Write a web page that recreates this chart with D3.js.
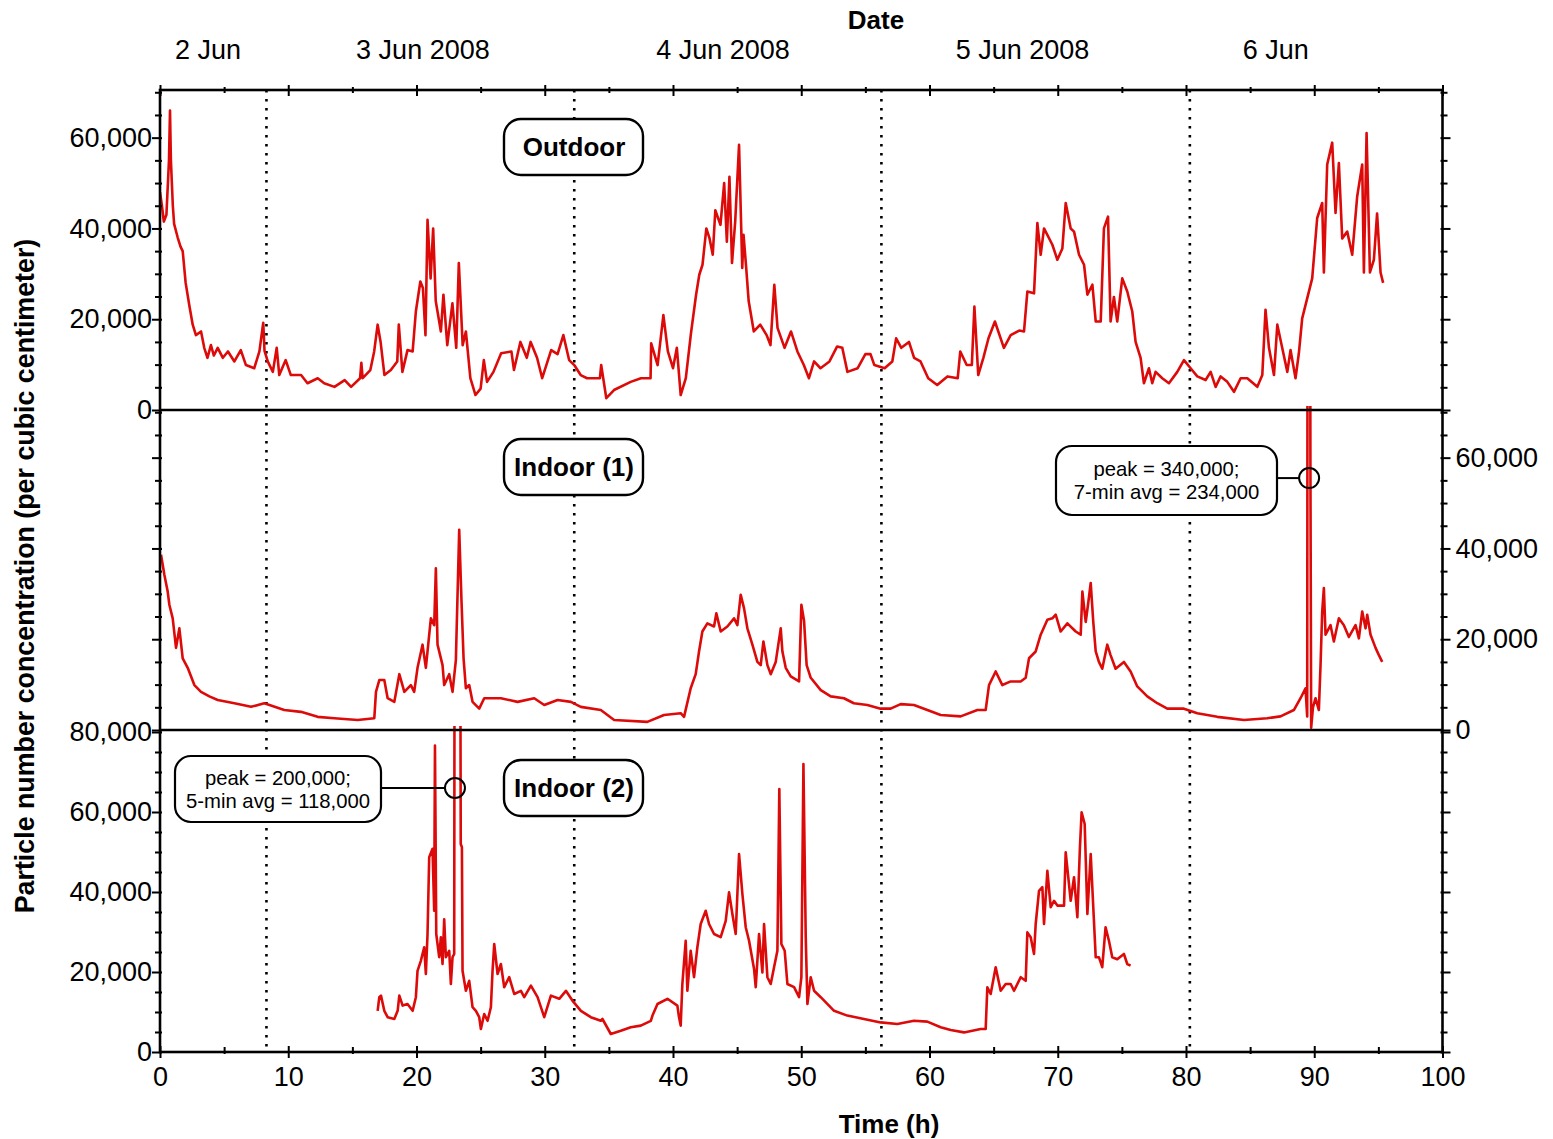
<!DOCTYPE html>
<html><head><meta charset="utf-8">
<script src="https://cdn.jsdelivr.net/npm/d3@7"></script>
<style>
body{margin:0;background:#fff}
text{font-family:"Liberation Sans",Arial,Helvetica,sans-serif;fill:#000}
</style>
</head><body>
<svg id="chart" width="1553" height="1139"></svg>
<script>
// ---------- DATA (time in hours, concentration in thousand particles per cm³) ----------
const outdoorHours = [0.0,0.15,0.3,0.5,0.7,0.78,0.85,1.0,1.1,1.38,1.6,1.77,2.0,2.3,2.55,2.8,3.2,3.45,3.7,3.97,4.2,4.5,4.9,5.3,5.8,6.3,6.7,7.35,7.75,8.05,8.15,8.4,8.8,9.1,9.3,9.8,10.2,11.0,11.5,12.3,12.8,13.6,14.4,14.9,15.6,15.7,15.8,16.4,16.7,16.97,17.2,17.5,18.0,18.5,18.62,18.9,19.3,19.7,19.95,20.3,20.5,20.7,20.86,21.1,21.3,21.5,21.9,22.1,22.4,22.8,23.1,23.3,23.6,23.85,24.2,24.6,25.0,25.25,25.5,26.0,26.6,27.4,27.6,28.1,28.6,28.9,29.4,29.8,30.5,31.0,31.45,31.9,32.3,32.8,33.3,34.3,34.4,34.8,35.4,36.7,37.5,38.25,38.3,38.8,39.25,39.6,40.0,40.3,40.6,41.0,41.4,41.8,42.05,42.3,42.6,42.85,43.1,43.3,43.7,43.99,44.2,44.4,44.6,44.85,45.15,45.4,45.5,45.7,45.9,46.3,46.8,47.3,47.6,47.9,48.15,48.7,49.2,49.7,50.2,50.6,51.0,51.5,52.2,52.8,53.2,53.6,54.4,55.0,55.4,55.7,56.5,57.1,57.4,57.8,58.4,58.8,59.3,59.9,60.6,61.4,62.2,62.4,62.9,63.3,63.5,63.8,64.2,64.6,65.1,65.8,66.33,67.0,67.37,67.63,68.15,68.41,68.67,68.93,69.58,69.97,70.36,70.62,71.01,71.27,71.66,72.05,72.31,72.7,72.96,73.35,73.6,73.92,74.12,74.38,74.64,75.03,75.42,75.81,76.07,76.46,76.72,77.11,77.37,77.63,78.15,78.67,79.32,79.84,80.36,80.88,81.53,81.92,82.31,82.7,83.22,83.74,84.26,84.78,85.56,85.95,86.2,86.47,86.86,87.12,87.5,87.9,88.15,88.54,88.8,89.06,89.45,89.84,90.23,90.62,90.75,91.01,91.4,91.66,91.92,92.18,92.57,92.96,93.35,93.74,93.87,94.08,94.34,94.65,94.9,95.17,95.37];
const outdoorValues = [48,45,41.5,43,55,66,55,45,41,38,36,35,28,22.8,18.8,16.5,17.3,13.7,11.5,14.3,12,13.7,11.5,12.9,10.7,13.2,9.9,9.2,12.9,19.2,13,10.7,8.4,13.7,7.7,11,7.7,7.7,5.9,7,5.9,5.1,6.6,5.1,7,10.4,7,8.8,12.9,18.8,15,7.7,8.8,10.7,18.8,8.4,13.2,12.9,21.7,28.3,26.9,16.5,41.9,29,40,24,17.3,25.4,14.3,23.5,13.7,32.4,14.3,17.3,7,3.3,4.7,11,6.2,8.4,12.5,12.9,8.8,15,11.5,15,11.5,7,13.2,12.3,16.5,11,9.9,7.7,7,7,9.9,2.6,4.4,6.2,7,7,14.7,9.9,20.9,12.9,9.2,13.7,3.3,7,16.9,25.4,29.8,32,40,37.8,34.2,44,40.8,50,37.1,51.4,32.4,41.5,58.4,31.3,38.6,31.6,24,17.3,18.8,16.5,14.3,27.6,18.1,13.7,17.3,12.9,9.9,7,10.7,9.2,10.7,14,13.7,8.4,9.2,12.3,12.3,9.9,9.2,10.7,15.8,13.7,15,11.5,10.7,7,5.5,7.4,7,12.9,9.9,9.9,22.8,7.7,11.5,15.8,19.5,13.7,16.5,17.5,17.3,26.1,25.7,41.2,34.2,40,36.4,33.1,35.6,45.6,40,39.3,34.2,32,25.4,27.6,19.5,19.5,40,42.6,19.5,24.9,19.5,29,26.1,21.7,15,11.5,5.9,9.2,5.9,8.4,7,5.9,8.4,11,9.2,7.4,6.6,8.4,5.1,7.4,6.2,4.0,7.0,7.0,5.1,7.7,22.1,13.7,7.7,18.8,13.7,8.4,13.2,7.0,12.5,20.2,24.6,29,42.3,45.6,30.3,54.1,58.9,43.4,54.4,37.8,39.3,34.2,47.1,54.1,30.3,61,30.3,33.1,43.3,30.3,28];

const indoor1Hours = [0.08,0.34,0.6,0.73,0.99,1.25,1.51,1.77,2.16,2.68,3.2,3.85,4.5,5.8,7.1,8.13,9.69,10.99,12.29,13.59,15.41,16.71,16.84,17.1,17.49,17.75,18.27,18.66,19.05,19.56,19.82,20.08,20.47,20.73,21.12,21.38,21.51,21.64,22.03,22.16,22.55,22.81,23.07,23.33,23.51,23.67,23.85,24.11,24.37,24.89,25.28,26.58,27.88,29.18,29.96,31.0,32.04,32.81,34.37,35.41,38.0,39.3,40.6,40.86,41.38,41.77,42.03,42.29,42.68,43.2,43.38,43.72,44.24,44.76,45.02,45.28,45.54,45.8,46.19,46.58,46.84,47.05,47.36,47.62,48.01,48.4,48.53,48.79,49.18,49.83,50.01,50.22,50.42,50.74,51.52,52.3,53.33,54.1,55.15,56.19,56.97,57.75,58.79,59.83,60.87,62.43,63.73,64.38,64.64,65.16,65.68,66.33,67.11,67.5,67.76,68.28,68.67,69.19,69.58,69.84,70.23,70.75,71.4,71.79,71.92,72.18,72.36,72.57,72.77,72.96,73.21,73.47,73.86,74.12,74.51,75.16,75.68,76.2,76.98,77.76,78.54,79.84,80.88,82.44,84.52,86.33,87.37,88.41,88.93,89.32,89.45,89.55,89.62,89.7,89.76,89.9,90.1,90.36,90.49,90.62,90.75,90.88,91.27,91.53,91.92,92.31,92.7,93.22,93.48,93.74,94.0,94.13,94.39,94.78,95.04,95.3];
const indoor1Values = [38.6,34.2,30.5,27.6,24.6,18.1,22.4,15.8,13.7,9.9,8.4,7.4,6.6,5.9,5.1,5.9,4.4,4.0,2.9,2.6,2.2,2.6,8.4,11,11,7,6.2,12.3,8.4,9.9,8.4,13.7,18.8,13.7,24.6,23.1,35.6,18.8,14.3,9.9,12.3,8.4,15.4,44.1,28.3,15.8,9.2,9.9,6.2,4.7,7,7,6.2,7,5.5,6.6,6.2,5.1,4.4,2.2,1.8,3.3,3.7,2.9,9.2,12.3,17.3,21.7,23.5,22.8,25.7,21.7,22.8,24.6,23.1,29.8,26.8,22.4,18.8,15,14.3,19.5,14.3,12.3,15,22.4,17.3,13.7,11.8,10.7,27.6,24,14.3,11.5,8.8,7.4,7,5.9,5.5,4.7,4.7,5.7,5.5,4.4,3.3,3.0,4.4,4.4,9.9,12.9,9.9,10.7,10.7,11.5,15.8,17.3,21,24.3,24.6,25.4,21.7,23.5,21.7,21,30.5,23.8,27.6,32.4,23.8,17.3,15,13.5,18.8,16.5,13.5,15,12.9,9.6,7.4,5.9,4.7,4.7,3.7,2.9,2.2,2.6,3.0,4.4,7,9.2,3,340,234,60,0.5,5,7,4.4,14.3,26.1,31.3,21,23.1,19.5,24.6,23.1,20.5,23.1,20.2,26.1,22.4,25.4,21,18.1,16.5,15];

const indoor2Hours = [16.97,17.1,17.23,17.49,17.75,18.27,18.53,18.66,18.92,19.3,19.7,19.95,20.08,20.34,20.6,20.73,20.86,20.99,21.25,21.38,21.44,21.54,21.77,21.9,22.03,22.16,22.29,22.55,22.68,22.81,22.94,23.0,23.12,23.25,23.35,23.45,23.54,23.59,23.85,24.11,24.37,24.63,24.89,25.02,25.28,25.54,25.8,25.93,26.06,26.32,26.58,26.84,27.23,27.62,28.14,28.4,28.92,29.44,29.96,30.48,31.13,31.65,32.17,32.82,33.59,34.37,34.5,35.15,35.93,36.71,37.49,38.27,38.4,38.79,39.57,40.34,40.47,40.6,40.73,40.99,41.12,41.38,41.64,41.9,42.16,42.55,42.81,43.2,43.72,44.11,44.37,44.63,44.89,45.15,45.41,45.67,45.93,46.32,46.45,46.71,46.97,47.1,47.36,47.62,47.88,48.14,48.29,48.45,48.71,48.92,49.44,49.83,50.01,50.17,50.35,50.48,50.74,51.0,51.52,52.56,53.59,54.89,56.19,57.49,58.79,59.83,60.87,61.65,62.69,63.99,64.38,64.51,64.77,65.16,65.55,65.94,66.33,66.59,67.11,67.5,67.63,67.89,68.15,68.28,68.54,68.8,68.93,69.19,69.45,69.71,69.97,70.49,70.62,71.01,71.27,71.53,71.73,71.86,72.1,72.31,72.57,72.77,72.96,73.21,73.47,73.73,73.99,74.25,74.64,75.16,75.42,75.68];
const indoor2Values = [10.3,13.7,14.1,10.3,8.7,8.25,10.3,14.1,11.6,12,10.3,13.7,20.3,22.8,26.2,19.5,29.5,48.7,50.8,35.3,76.6,29.5,23.7,28.7,22,33.2,23.7,25.3,17,23.7,24.5,200,118,130,200,52,51.2,20.3,15.3,17.8,11.2,10.3,8.7,5.75,9.5,7.8,11.2,20.3,27,19.5,22,16.2,18.7,14.5,15.3,13.7,16.6,13.7,8.7,14.1,13.3,15.3,12.8,10.3,8.7,7.8,8.25,4.5,5.3,6.2,6.6,7.8,9.1,12,13.3,11.6,8.7,6.6,17,27.8,15.3,25.3,18.7,26.2,32,35.3,32,29.5,28.7,32.8,39.9,34.5,29.5,49.5,39.5,31.2,27.8,20.75,16.2,29.5,19.9,32,18.7,17,21.2,25.3,65.75,27,25.3,17,16.2,13.7,18.7,72,28.7,12,18.7,15.3,13.7,10.3,9.1,8.25,7.4,7.0,7.8,7.6,6.2,5.5,4.9,5.75,5.75,16.2,14.5,21.2,15.3,17,17,15.3,18.7,17.8,29.9,28.7,24.5,32,40.3,41.2,32,45.3,36.2,37.8,36.6,36.6,49.9,37.8,43.7,33.7,51.2,59.9,57,34.5,49.5,36.2,23.7,23.7,21.2,31.2,27.8,23.7,23.2,24.5,22,21.6];

const panelNames = ["Outdoor","Indoor (1)","Indoor (2)"];
const panelMax = [70500, 70500, 80500];
const leftTickLabels = [[0,20000,40000,60000],[],[0,20000,40000,60000,80000]];
const rightTickLabels = [[],[0,20000,40000,60000],[]];
const xTickLabels = [0,10,20,30,40,50,60,70,80,90,100];
const dateLabels = ["2 Jun","3 Jun 2008","4 Jun 2008","5 Jun 2008","6 Jun"];
const dateLabelHours = [3.75,20.5,43.9,67.25,87.0];
const midnightHours = [8.3,32.3,56.25,80.3];
const annotations = [
  {panel:1, lines:["peak = 340,000;","7-min avg = 234,000"], hour:89.6, value:55500},
  {panel:2, lines:["peak = 200,000;","5-min avg = 118,000"], hour:23.0, value:66000}
];

// ---------- LAYOUT ----------
const svg = d3.select("#chart");
const X0 = 160, X1 = 1442.5;
const bands = [[90,410],[410,730],[730,1052]];
const x = d3.scaleLinear().domain([0,100]).range([X0,X1]);
const ys = bands.map((b,i)=>d3.scaleLinear().domain([0,panelMax[i]]).range([b[1],b[0]]));
const RED = "#dd0a0a";
const TICKFONT = 27;
const TITLEFONT = 26;

svg.append("rect").attr("width",1553).attr("height",1139).attr("fill","#fff");

// clip paths
const defs = svg.append("defs");
bands.forEach((b,i)=>{
  defs.append("clipPath").attr("id","clip"+i).append("rect")
    .attr("x",X0).attr("y",b[0]-4).attr("width",X1-X0).attr("height",b[1]-b[0]+4);
});

// midnight dotted lines
svg.append("g").selectAll("line").data(midnightHours).join("line")
  .attr("x1",d=>x(d)).attr("x2",d=>x(d)).attr("y1",bands[0][0]).attr("y2",bands[2][1])
  .attr("stroke","#000").attr("stroke-width",2.6).attr("stroke-dasharray","2.6,6.4");

// series
const series = [
  [outdoorHours,outdoorValues],
  [indoor1Hours,indoor1Values],
  [indoor2Hours,indoor2Values]
];
series.forEach(([hs,vs],i)=>{
  const pts = hs.map((h,j)=>[h, vs[j]*1000]);
  const line = d3.line().x(d=>x(d[0])).y(d=>ys[i](d[1]));
  svg.append("path").datum(pts).attr("d",line)
    .attr("clip-path",`url(#clip${i})`)
    .attr("fill","none").attr("stroke",RED).attr("stroke-width",2.6)
    .attr("stroke-linejoin","round");
});

// y ticks (minor every 5000, major every 20000) both sides
bands.forEach((b,i)=>{
  const y = ys[i];
  const vals = d3.range(0, panelMax[i], 5000);
  const gl = svg.append("g").attr("transform",`translate(${X0},0)`)
    .call(d3.axisLeft(y).tickValues(vals).tickSize(5).tickFormat(""));
  gl.select(".domain").remove();
  gl.selectAll(".tick line").attr("stroke","#000").attr("stroke-width",2)
    .attr("x1",2).attr("x2",d=>d%20000===0?-8:-5);
  const gr = svg.append("g").attr("transform",`translate(${X1},0)`)
    .call(d3.axisRight(y).tickValues(vals).tickSize(5).tickFormat(""));
  gr.select(".domain").remove();
  gr.selectAll(".tick line").attr("stroke","#000").attr("stroke-width",2)
    .attr("x1",-2).attr("x2",d=>d%20000===0?8:5);
  if(leftTickLabels[i].length){
    const g = svg.append("g").attr("transform",`translate(${X0},0)`)
      .call(d3.axisLeft(y).tickValues(leftTickLabels[i]).tickSize(0).tickPadding(8).tickFormat(d3.format(",")));
    g.select(".domain").remove();
    g.selectAll("text").style("font-size",TICKFONT+"px").attr("fill","#000");
  }
  if(rightTickLabels[i].length){
    const g = svg.append("g").attr("transform",`translate(${X1},0)`)
      .call(d3.axisRight(y).tickValues(rightTickLabels[i]).tickSize(0).tickPadding(13).tickFormat(d3.format(",")));
    g.select(".domain").remove();
    g.selectAll("text").style("font-size",TICKFONT+"px").attr("fill","#000");
  }
});

// x ticks top and bottom
const xt = d3.range(0,101,5);
const gb = svg.append("g").attr("transform",`translate(0,${bands[2][1]})`)
  .call(d3.axisBottom(x).tickValues(xt).tickSize(5).tickFormat(""));
gb.select(".domain").remove();
gb.selectAll(".tick line").attr("stroke","#000").attr("stroke-width",2)
  .attr("y1",d=>d%10===0?-6:-5).attr("y2",d=>d%10===0?6:2);
const gbl = svg.append("g").attr("transform",`translate(0,${bands[2][1]})`)
  .call(d3.axisBottom(x).tickValues(xTickLabels).tickSize(0).tickPadding(15));
gbl.select(".domain").remove();
gbl.selectAll("text").style("font-size",TICKFONT+"px").attr("fill","#000");

const gt = svg.append("g").attr("transform",`translate(0,${bands[0][0]})`)
  .call(d3.axisTop(x).tickValues(xt).tickSize(5).tickFormat(""));
gt.select(".domain").remove();
gt.selectAll(".tick line").attr("stroke","#000").attr("stroke-width",2)
  .attr("y1",d=>d%10===0?6:3).attr("y2",d=>d%10===0?-5:-3);

// frame and panel separators
svg.append("rect").attr("x",X0).attr("y",bands[0][0]).attr("width",X1-X0).attr("height",bands[2][1]-bands[0][0])
  .attr("fill","none").attr("stroke","#000").attr("stroke-width",2.6);
[bands[0][1],bands[1][1]].forEach(yy=>{
  svg.append("line").attr("x1",X0).attr("x2",X1).attr("y1",yy).attr("y2",yy)
    .attr("stroke","#000").attr("stroke-width",2.6);
});

// date labels
svg.append("g").selectAll("text").data(dateLabels).join("text")
  .attr("x",(d,i)=>x(dateLabelHours[i])).attr("y",59)
  .attr("text-anchor","middle").style("font-size",TICKFONT+"px").text(d=>d);
svg.append("text").attr("x",876).attr("y",29).attr("text-anchor","middle")
  .style("font-size",TITLEFONT+"px").style("font-weight","bold").text("Date");

// axis titles
svg.append("text").attr("x",889).attr("y",1133).attr("text-anchor","middle")
  .style("font-size",TITLEFONT+"px").style("font-weight","bold").text("Time (h)");
svg.append("text").attr("transform","translate(34,576) rotate(-90)").attr("text-anchor","middle")
  .style("font-size","26.8px").style("font-weight","bold")
  .text("Particle number concentration (per cubic centimeter)");

// panel name boxes
panelNames.forEach((n,i)=>{
  const top = bands[i][0] + 29 + (i===2?1:0);
  const g = svg.append("g");
  g.append("rect").attr("x",504).attr("y",top).attr("width",139).attr("height",56).attr("rx",17)
    .attr("fill","#fff").attr("stroke","#000").attr("stroke-width",2.4);
  g.append("text").attr("x",574).attr("y",top+28).attr("dy","0.35em").attr("text-anchor","middle")
    .style("font-size",TITLEFONT+"px").style("font-weight","bold").text(n);
});

// annotations
const annBoxes = [{x:1056,y:446,w:221,h:69},{x:175,y:756,w:206,h:66}];
annotations.forEach((a,k)=>{
  const bx = annBoxes[k];
  const cx = x(a.hour), cy = ys[a.panel](a.value);
  const g = svg.append("g");
  g.append("line").attr("x1",bx.x+bx.w).attr("x2",cx-10).attr("y1",cy).attr("y2",cy)
    .attr("stroke","#000").attr("stroke-width",2);
  g.append("circle").attr("cx",cx).attr("cy",cy).attr("r",10)
    .attr("fill","none").attr("stroke","#000").attr("stroke-width",2);
  g.append("rect").attr("x",bx.x).attr("y",bx.y).attr("width",bx.w).attr("height",bx.h).attr("rx",16)
    .attr("fill","#fff").attr("stroke","#000").attr("stroke-width",2.2);
  a.lines.forEach((t,j)=>{
    g.append("text").attr("x",bx.x+bx.w/2).attr("y",bx.y+bx.h/2+(j===0?-11.5:11.5)).attr("dy","0.35em")
      .attr("text-anchor","middle").style("font-size","20.3px").text(t);
  });
});
</script>
</body></html>
